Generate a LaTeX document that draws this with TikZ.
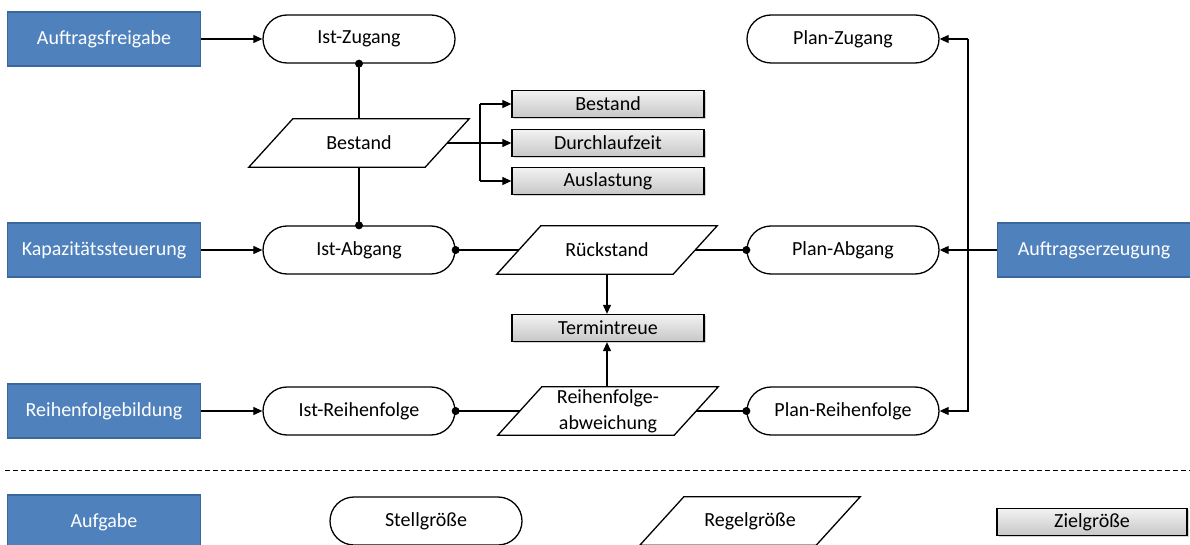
\documentclass[tikz,border=0pt]{standalone}
\usepackage{fontspec}
\setmainfont{Carlito}
\usetikzlibrary{arrows.meta,calc,shadows}
\definecolor{taskblue}{HTML}{4F81BD}
\definecolor{taskborder}{HTML}{3A679C}
\begin{document}
\begin{tikzpicture}[x=1pt,y=-1pt,
  font=\fontsize{20}{24}\selectfont,
  task/.style={draw=taskborder,line width=1.8pt,fill=taskblue,text=white,minimum width=193pt,minimum height=54pt,inner sep=0pt},
  stadium/.style={draw,line width=1.3pt,rounded corners=24pt,minimum width=192pt,minimum height=48pt,fill=white,inner sep=0pt},
  para/.style={minimum width=220pt,minimum height=48pt,inner sep=0pt,align=center},
  goal/.style={draw,line width=1.3pt,top color=white!95!black,bottom color=black!22,minimum width=192pt,minimum height=27pt,inner sep=0pt,drop shadow={opacity=0.35,shadow xshift=1.5pt,shadow yshift=-1.5pt}},
  conn/.style={line width=1.1pt},
  arr/.style={conn,-{Triangle[length=9pt,width=8pt]}},
  dot/.style={circle,fill=black,inner sep=0pt,minimum size=8pt}
]
\useasboundingbox (0,0) rectangle (1190,545);
\clip (0,0) rectangle (1190,545);
\newcommand{\parashape}[1]{\draw[line width=1.3pt,fill=white] ($(#1.north west)+(44,0)$) -- (#1.north east) -- ($(#1.south east)+(-44,0)$) -- (#1.south west) -- cycle;}

% tasks
\node[task] (af) at (104,39) {Auftragsfreigabe};
\node[task] (ks) at (104,250) {Kapazitätssteuerung};
\node[task] (rb) at (104,411) {Reihenfolgebildung};
\node[task] (ae) at (1094,250) {Auftragserzeugung};
\node[task] (auf) at (104,522) {Aufgabe};

% stadiums
\node[stadium] (iz) at (359,39) {Ist-Zugang};
\node[stadium] (ia) at (359,250) {Ist-Abgang};
\node[stadium] (ir) at (359,411) {Ist-Reihenfolge};
\node[stadium] (pz) at (843,39) {Plan-Zugang};
\node[stadium] (pa) at (843,250) {Plan-Abgang};
\node[stadium] (pr) at (843,411) {Plan-Reihenfolge};
\node[stadium] (sg) at (426,521) {Stellgröße};

% parallelograms
\node[para] (bst) at (359,143) {};
\parashape{bst}
\node at (bst) {Bestand};
\node[para] (rs) at (607,250) {};
\parashape{rs}
\node at (rs) {Rückstand};
\node[para] (rfa) at (608,411) {};
\parashape{rfa}
\node[align=center,font=\fontsize{20}{26}\selectfont] at (rfa) {Reihenfolge-\\abweichung};
\node[para] (rg) at (750,521) {};
\parashape{rg}
\node at (rg) {Regelgröße};

% goal boxes
\node[goal] (gb) at (608,104) {Bestand};
\node[goal] (gd) at (608,143) {Durchlaufzeit};
\node[goal] (gl) at (608,181) {Auslastung};
\node[goal] (tt) at (608,328) {Termintreue};
\node[goal,minimum width=190pt] (zg) at (1092,522) {Zielgröße};

% dashed separator
\draw[line width=1pt,dash pattern=on 5pt off 3pt] (5,470) -- (1190,470);

% task arrows
\draw[arr] (af.east) -- (iz.west);
\draw[arr] (ks.east) -- (ia.west);
\draw[arr] (rb.east) -- (ir.west);
\draw[arr] (ae.west) -- (pa.east);
\coordinate (rtop) at (968,39);
\coordinate (rbot) at (968,411);
\draw[arr] (rtop) -- (pz.east);
\draw[arr] (rtop) -- (rbot) -- (pr.east);

% Bestand links
\draw[conn] (iz.south) -- (bst.north);
\draw[conn] (bst.south) -- (ia.north);
\node[dot] at (iz.south) {};
\node[dot] at (ia.north) {};
\coordinate (bx) at (480,143);
\draw[conn] ($(bst.east)+(-22,0)$) -- (bx);
\draw[conn] (480,104) -- (480,181);
\draw[arr] (480,104) -- (gb.west);
\draw[arr] (bx) -- (gd.west);
\draw[arr] (480,181) -- (gl.west);

% Rueckstand links
\draw[conn] (ia.east) -- ($(rs.west)+(22,0)$);
\draw[conn] ($(rs.east)+(-22,0)$) -- (pa.west);
\node[dot] at (ia.east) {};
\node[dot] at (pa.west) {};
\draw[arr] (rs.south) -- (rs.south |- tt.north);

% Reihenfolge links
\draw[conn] (ir.east) -- ($(rfa.west)+(22,0)$);
\draw[conn] ($(rfa.east)+(-22,0)$) -- (pr.west);
\node[dot] at (ir.east) {};
\node[dot] at (pr.west) {};
\draw[arr] (rfa.north -| rs.south) -- (rs.south |- tt.south);
\end{tikzpicture}
\end{document}
